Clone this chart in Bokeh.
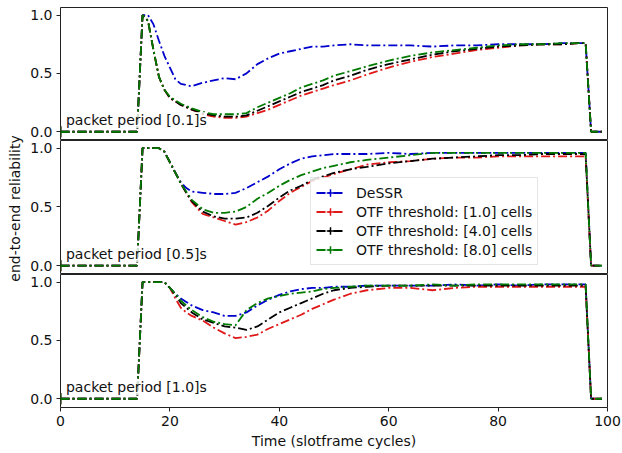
import math
from bokeh.plotting import figure
from bokeh.layouts import column, row
from bokeh.models import (ColumnDataSource, Range1d, FixedTicker, Label, Legend,
                          LegendItem, CDSView, IndexFilter, PrintfTickFormatter)
from bokeh.embed import file_html
from bokeh.resources import INLINE

# ---------------- data ----------------
T = [0, 14, 15, 16, 17, 18, 19, 20, 21, 22, 23, 24, 26, 28, 30, 32, 34, 36, 38, 40,
     42, 44, 46, 48, 50, 53, 56, 60, 64, 68, 72, 76, 80, 84, 88, 92, 95, 96, 97, 99]

series_names = ["DeSSR", "OTF threshold: [1.0] cells",
                "OTF threshold: [4.0] cells", "OTF threshold: [8.0] cells"]
panel_titles = ["packet period [0.1]s", "packet period [0.5]s", "packet period [1.0]s"]
y_label = "end-to-end reliability"
x_label = "Time (slotframe cycles)"

# packet period 0.1 s
p01_dessr = [0, 0, 1.0, 1.0, 0.92, 0.78, 0.65, 0.55, 0.45, 0.41, 0.40, 0.39, 0.42, 0.44, 0.46, 0.45, 0.50, 0.58, 0.63, 0.67,
             0.69, 0.71, 0.73, 0.73, 0.74, 0.75, 0.74, 0.74, 0.74, 0.73, 0.74, 0.74, 0.75, 0.75, 0.75, 0.76, 0.76, 0.76, 0, 0]
p01_otf1 = [0, 0, 1.0, 0.95, 0.70, 0.47, 0.36, 0.29, 0.26, 0.23, 0.21, 0.19, 0.15, 0.13, 0.12, 0.12, 0.13, 0.16, 0.19, 0.23,
            0.27, 0.31, 0.34, 0.37, 0.40, 0.44, 0.49, 0.55, 0.60, 0.64, 0.67, 0.70, 0.72, 0.74, 0.75, 0.75, 0.76, 0.76, 0, 0]
p01_otf4 = [0, 0, 1.0, 0.95, 0.70, 0.47, 0.36, 0.29, 0.26, 0.23, 0.21, 0.19, 0.16, 0.14, 0.13, 0.13, 0.14, 0.18, 0.22, 0.26,
            0.30, 0.34, 0.37, 0.40, 0.44, 0.48, 0.53, 0.58, 0.62, 0.66, 0.69, 0.71, 0.73, 0.74, 0.75, 0.75, 0.76, 0.76, 0, 0]
p01_otf8 = [0, 0, 1.0, 0.95, 0.70, 0.47, 0.36, 0.30, 0.27, 0.24, 0.22, 0.20, 0.17, 0.15, 0.15, 0.15, 0.16, 0.21, 0.25, 0.29,
            0.33, 0.38, 0.41, 0.44, 0.48, 0.52, 0.56, 0.61, 0.65, 0.68, 0.70, 0.72, 0.74, 0.75, 0.75, 0.76, 0.76, 0.76, 0, 0]

# packet period 0.5 s
p05_dessr = [0, 0, 1.0, 1.0, 1.0, 1.0, 0.97, 0.88, 0.79, 0.71, 0.66, 0.63, 0.62, 0.61, 0.61, 0.62, 0.66, 0.71, 0.76, 0.82,
             0.87, 0.91, 0.93, 0.94, 0.95, 0.95, 0.95, 0.96, 0.95, 0.96, 0.96, 0.96, 0.96, 0.96, 0.96, 0.96, 0.96, 0.96, 0, 0]
p05_otf1 = [0, 0, 1.0, 1.0, 1.0, 1.0, 0.97, 0.88, 0.79, 0.70, 0.62, 0.54, 0.44, 0.41, 0.38, 0.35, 0.37, 0.41, 0.47, 0.55,
            0.62, 0.67, 0.72, 0.75, 0.78, 0.82, 0.86, 0.88, 0.89, 0.91, 0.92, 0.92, 0.93, 0.93, 0.93, 0.93, 0.93, 0.93, 0, 0]
p05_otf4 = [0, 0, 1.0, 1.0, 1.0, 1.0, 0.97, 0.88, 0.79, 0.70, 0.62, 0.55, 0.46, 0.42, 0.40, 0.40, 0.41, 0.45, 0.51, 0.58,
            0.64, 0.68, 0.73, 0.76, 0.79, 0.82, 0.84, 0.87, 0.89, 0.91, 0.92, 0.93, 0.94, 0.94, 0.95, 0.95, 0.95, 0.95, 0, 0]
p05_otf8 = [0, 0, 1.0, 1.0, 1.0, 1.0, 0.97, 0.88, 0.79, 0.70, 0.63, 0.56, 0.48, 0.45, 0.45, 0.46, 0.50, 0.57, 0.62, 0.68,
            0.73, 0.77, 0.80, 0.83, 0.85, 0.88, 0.90, 0.92, 0.94, 0.96, 0.96, 0.96, 0.96, 0.96, 0.96, 0.96, 0.96, 0.96, 0, 0]

# packet period 1.0 s
p10_dessr = [0, 0, 1.0, 1.0, 1.0, 1.0, 1.0, 0.95, 0.90, 0.86, 0.83, 0.80, 0.76, 0.74, 0.71, 0.71, 0.74, 0.80, 0.85, 0.89,
             0.92, 0.94, 0.95, 0.95, 0.96, 0.96, 0.97, 0.97, 0.97, 0.97, 0.98, 0.97, 0.98, 0.97, 0.98, 0.98, 0.98, 0.98, 0, 0]
p10_otf1 = [0, 0, 1.0, 1.0, 1.0, 1.0, 1.0, 0.95, 0.86, 0.78, 0.74, 0.71, 0.67, 0.61, 0.56, 0.52, 0.53, 0.55, 0.60, 0.64,
            0.68, 0.72, 0.77, 0.81, 0.85, 0.90, 0.93, 0.95, 0.95, 0.93, 0.95, 0.96, 0.96, 0.96, 0.96, 0.96, 0.96, 0.96, 0, 0]
p10_otf4 = [0, 0, 1.0, 1.0, 1.0, 1.0, 1.0, 0.95, 0.89, 0.82, 0.78, 0.74, 0.68, 0.65, 0.62, 0.61, 0.59, 0.62, 0.68, 0.74,
            0.78, 0.82, 0.86, 0.90, 0.93, 0.95, 0.96, 0.97, 0.97, 0.97, 0.97, 0.97, 0.97, 0.97, 0.97, 0.97, 0.97, 0.97, 0, 0]
p10_otf8 = [0, 0, 1.0, 1.0, 1.0, 1.0, 1.0, 0.95, 0.90, 0.84, 0.80, 0.76, 0.70, 0.66, 0.64, 0.63, 0.76, 0.82, 0.86, 0.88,
            0.90, 0.91, 0.92, 0.94, 0.95, 0.96, 0.97, 0.97, 0.97, 0.98, 0.97, 0.98, 0.98, 0.98, 0.98, 0.98, 0.98, 0.98, 0, 0]

panels = [
    [p01_dessr, p01_otf1, p01_otf4, p01_otf8],
    [p05_dessr, p05_otf1, p05_otf4, p05_otf8],
    [p10_dessr, p10_otf1, p10_otf4, p10_otf8],
]

# ---------------- style ----------------
colors = ["#0000cc", "#e01818", "#000000", "#007a00"]
FONT = "DejaVu Sans"
FS = "14px"
DASH = "9 3 2 3"
FRAME_W = 547
heights = [133, 134, 133]
LEFT_W = 24

# narrow strip holding the shared y-axis title
lab_fig = figure(width=LEFT_W, height=453, output_backend="svg", toolbar_location=None,
                 min_border=0, x_range=Range1d(0, 1), y_range=Range1d(0, 1))
lab_fig.axis.visible = False
lab_fig.grid.visible = False
lab_fig.outline_line_color = None
lab_fig.add_layout(Label(x=14, y=453 - 208, x_units="screen", y_units="screen",
                         text=y_label, angle=math.pi / 2, text_align="center",
                         text_baseline="middle", text_font=FONT, text_font_size=FS,
                         text_color="#111111"))

figs = []
for i, data in enumerate(panels):
    top = 7 if i == 0 else 0
    bottom = 46 if i == 2 else 0
    p = figure(frame_width=FRAME_W, frame_height=heights[i],
               x_range=Range1d(0, 100), y_range=Range1d(-0.075, 1.065),
               output_backend="svg", toolbar_location=None,
               min_border_left=60 - LEFT_W, min_border_right=15,
               min_border_top=top, min_border_bottom=bottom,
               background_fill_color="white", border_fill_color="white")
    p.xgrid.visible = False
    p.ygrid.visible = False
    p.outline_line_color = "#222222"
    p.outline_line_width = 1
    p.outline_line_alpha = 1

    p.yaxis.ticker = FixedTicker(ticks=[0.0, 0.5, 1.0])
    p.yaxis.formatter = PrintfTickFormatter(format="%.1f")
    p.yaxis.minor_tick_line_color = None
    p.yaxis.major_tick_out = 4
    p.yaxis.major_tick_in = 0
    p.yaxis.major_tick_line_color = "#222222"
    p.yaxis.axis_line_color = None
    p.yaxis.major_label_text_font = FONT
    p.yaxis.major_label_text_font_size = FS
    p.yaxis.major_label_text_color = "#111111"
    p.yaxis.major_label_standoff = 4

    if i == 2:
        p.xaxis.ticker = FixedTicker(ticks=[0, 20, 40, 60, 80, 100])
        p.xaxis.minor_tick_line_color = None
        p.xaxis.major_tick_out = 4
        p.xaxis.major_tick_in = 0
        p.xaxis.major_tick_line_color = "#222222"
        p.xaxis.axis_line_color = None
        p.xaxis.major_label_text_font = FONT
        p.xaxis.major_label_text_font_size = FS
        p.xaxis.major_label_text_color = "#111111"
        p.xaxis.major_label_standoff = 4
        p.xaxis.axis_label = x_label
        p.xaxis.axis_label_text_font = FONT
        p.xaxis.axis_label_text_font_size = FS
        p.xaxis.axis_label_text_font_style = "normal"
        p.xaxis.axis_label_text_color = "#111111"
        p.xaxis.axis_label_standoff = 4
    else:
        p.xaxis.visible = False

    items = []
    for name, ys, c in zip(series_names, data, colors):
        src = ColumnDataSource(data=dict(t=T, y=ys))
        lr = p.line("t", "y", source=src, line_color=c, line_width=1.8, line_dash=DASH)
        # error-bar style tick (only used for the legend handle)
        mr = p.scatter("t", "y", source=src, marker="cross", size=11,
                       line_color=c, line_width=1.5,
                       view=CDSView(filter=IndexFilter(indices=[0])))
        items.append(LegendItem(label=name, renderers=[lr, mr]))

    lab = Label(x=1, y=0.1, text=panel_titles[i], text_font=FONT, text_font_size=FS,
                text_color="#111111", text_baseline="alphabetic",
                background_fill_color="white", background_fill_alpha=0.8)
    p.add_layout(lab)

    if i == 1:
        leg = Legend(items=items, location=(250, 9))
        leg.label_text_font = FONT
        leg.label_text_font_size = FS
        leg.label_text_color = "#111111"
        leg.glyph_width = 28
        leg.glyph_height = 19
        leg.label_height = 19
        leg.label_standoff = 12
        leg.spacing = 0
        leg.padding = 5
        leg.margin = 0
        leg.border_line_color = "#cccccc"
        leg.border_line_width = 1
        leg.background_fill_color = "white"
        leg.background_fill_alpha = 0.85
        p.add_layout(leg)

    figs.append(p)

layout = row(lab_fig, column(*figs, spacing=0), spacing=0)
open("out.html", "w").write(file_html(layout, INLINE))
